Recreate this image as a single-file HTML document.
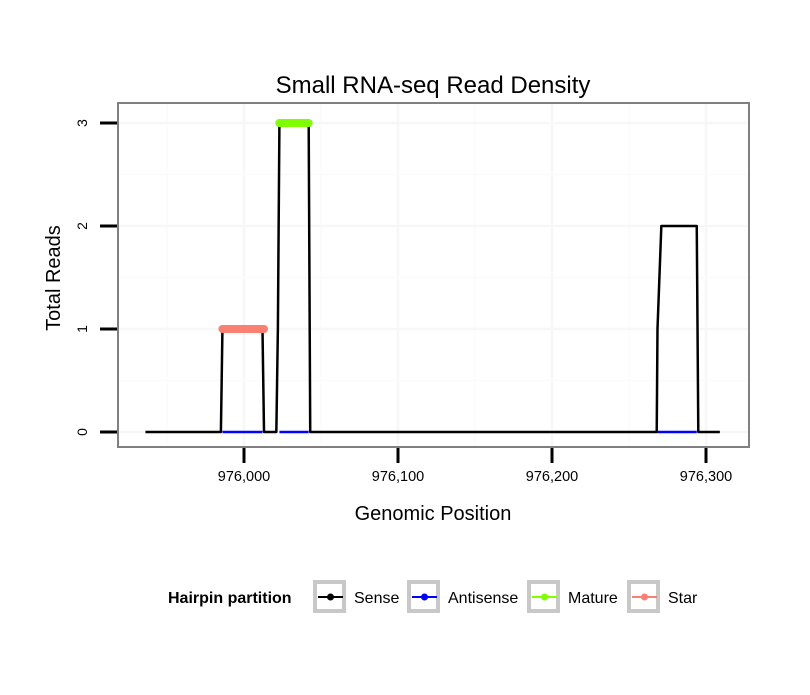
<!DOCTYPE html>
<html><head><meta charset="utf-8">
<style>
body{margin:0;background:#fff;}
svg text{font-family:"Liberation Sans",sans-serif;}
</style></head><body>
<svg width="810" height="690" xmlns="http://www.w3.org/2000/svg">
<text x="433" y="93" font-size="24" text-anchor="middle">Small RNA-seq Read Density</text>
<g id="grid"></g>
<g id="series"></g>
<rect x="118" y="103" width="631" height="344" fill="none" stroke="#808080" stroke-width="2"/>
<g id="axes"></g>
<text x="433" y="520" font-size="20" text-anchor="middle">Genomic Position</text>
<text transform="translate(60,278) rotate(-90)" font-size="20" text-anchor="middle">Total Reads</text>
<g id="legend">
<text x="168" y="603" font-size="16" font-weight="bold">Hairpin partition</text>
</g>
</svg>
<script>
const xTicks=[976000,976100,976200,976300];
const xTickLabels=["976,000","976,100","976,200","976,300"];
const yTicks=[0,1,2,3];
const senseX=[975936,975985,975986,976012,976013,976021,976022,976023,976042,976043,976268,976268.5,976271,976294,976295,976309];
const senseY=[0,0,1,1,0,0,1,3,3,0,0,1,2,2,0,0];
const antisenseSegs=[[975986,976012],[976023,976042],[976268.5,976294]];
const matureSeg=[976023,976042];const matureVal=3;
const starSeg=[975986,976013];const starVal=1;
const legendNames=["Sense","Antisense","Mature","Star"];
const legendColors=["#000000","#0000ff","#7fff00","#fa8072"];

const NS="http://www.w3.org/2000/svg";
const X=g=>244+(g-976000)*1.54;
const Y=v=>432-v*103;
function mk(tag,attrs,parent){const e=document.createElementNS(NS,tag);for(const k in attrs)e.setAttribute(k,attrs[k]);parent.appendChild(e);return e;}
const grid=document.getElementById('grid'),ser=document.getElementById('series'),ax=document.getElementById('axes'),leg=document.getElementById('legend');
for(let i=0;i<xTicks.length;i++){
 let l=mk('line',{x1:X(xTicks[i]),x2:X(xTicks[i]),y1:103,y2:447,stroke:'#f7f7f7','stroke-width':2.5},grid);
 
 let m=X(xTicks[i]-50);
 let l2=mk('line',{x1:m,x2:m,y1:103,y2:447,stroke:'#fbfbfb','stroke-width':1.5},grid);
 
}
for(let i=0;i<yTicks.length;i++){
 let l=mk('line',{x1:118,x2:749,y1:Y(yTicks[i]),y2:Y(yTicks[i]),stroke:'#f7f7f7','stroke-width':2.5},grid);
 
 if(i>0){let m=Y(yTicks[i]-0.5);
 let l2=mk('line',{x1:118,x2:749,y1:m,y2:m,stroke:'#fbfbfb','stroke-width':1.5},grid);
 }
}
let d=senseX.map((x,i)=>(i?'L':'M')+X(x)+','+Y(senseY[i])).join(' ');
let sp=mk('path',{d:d,fill:'none',stroke:'#000','stroke-width':2.5,'stroke-linejoin':'round'},ser);

antisenseSegs.forEach(s=>{let l=mk('line',{x1:X(s[0]),x2:X(s[1]),y1:Y(0),y2:Y(0),stroke:'#0000ff','stroke-width':2.5},ser);
 });
let ml=mk('line',{x1:X(matureSeg[0]),x2:X(matureSeg[1]),y1:Y(matureVal),y2:Y(matureVal),stroke:'#7fff00','stroke-width':8,'stroke-linecap':'round'},ser);

let st=mk('line',{x1:X(starSeg[0]),x2:X(starSeg[1]),y1:Y(starVal),y2:Y(starVal),stroke:'#fa8072','stroke-width':8,'stroke-linecap':'round'},ser);

xTicks.forEach((t,i)=>{let l=mk('line',{x1:X(t),x2:X(t),y1:448,y2:463,stroke:'#000','stroke-width':3},ax);
 
 let tx=mk('text',{x:X(t),y:481,'font-size':14.5,'text-anchor':'middle'},ax);tx.textContent=xTickLabels[i];
 });
yTicks.forEach(t=>{let l=mk('line',{x1:100,x2:117,y1:Y(t),y2:Y(t),stroke:'#000','stroke-width':3},ax);
 
 let tx=mk('text',{transform:`translate(87,${Y(t)}) rotate(-90)`,'font-size':14,'text-anchor':'middle'},ax);tx.textContent=String(t);
 });
const boxX=[313,407,527,627];
legendNames.forEach((n,i)=>{
 let b=mk('rect',{x:boxX[i]+2,y:582,width:29,height:29,fill:'#fff',stroke:'#c8c8c8','stroke-width':4},leg);
 
 let l=mk('line',{x1:boxX[i]+5,x2:boxX[i]+30,y1:597,y2:597,stroke:legendColors[i],'stroke-width':2},leg);
 
 let c=mk('circle',{cx:boxX[i]+17.5,cy:597,r:3.5,fill:legendColors[i]},leg);
 
 let t=mk('text',{x:boxX[i]+41,y:603,'font-size':16},leg);t.textContent=n;
 
});
</script>
</body></html>
